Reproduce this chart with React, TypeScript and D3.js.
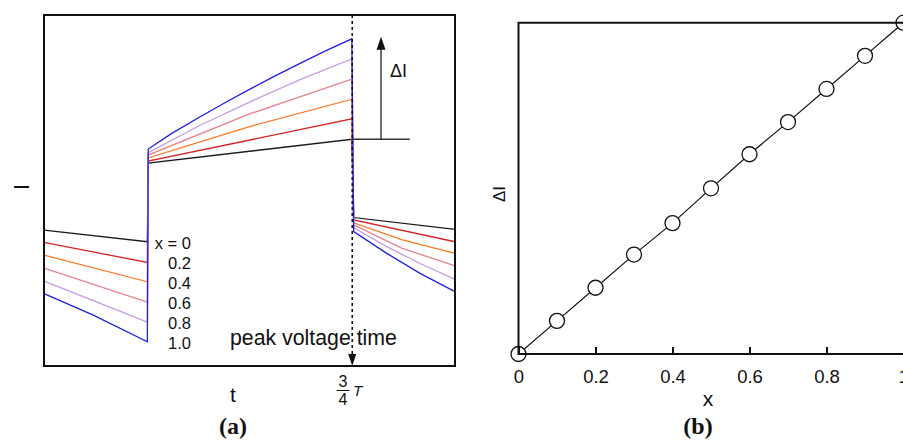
import * as d3 from "d3";
import { useRef, useEffect } from "react";

// panel (a): current vs time, one series per x (time in units of T)
const compositions = ["0", "0.2", "0.4", "0.6", "0.8", "1.0"];
const seriesColors = ["#1a1a1a", "#d62424", "#fb7a26", "#e8838e", "#c79be6", "#1f1fe6"];

const currentBlack: [number, number][] = [
  [0, 38.7], [0.2515, 35.4], [0.2535, 57.8], [0.749, 64.6], [0.7535, 42.3], [1, 38.9]
];
const currentRed: [number, number][] = [
  [0, 35.2], [0.2515, 29.5], [0.2535, 58.4], [0.749, 70.4], [0.7535, 41.6], [1, 35.4]
];
const currentOrange: [number, number][] = [
  [0, 31.6], [0.2515, 24.0], [0.2535, 59.3], [0.5, 68.2], [0.749, 76.0], [0.7535, 40.8], [0.87, 36.0], [1, 32.1]
];
const currentPink: [number, number][] = [
  [0, 27.9], [0.2515, 18.2], [0.2535, 60.1], [0.5, 71.8], [0.749, 81.7], [0.7535, 40.2], [0.87, 33.6], [1, 28.5]
];
const currentLilac: [number, number][] = [
  [0, 24.2], [0.12, 18.6], [0.2515, 12.5], [0.2535, 60.8], [0.38, 68.6], [0.5, 75.2], [0.623, 81.6], [0.749, 87.5],
  [0.7535, 39.4], [0.834, 34.0], [0.915, 29.2], [1, 24.7]
];
const currentBlue: [number, number][] = [
  [0, 20.6], [0.12, 14.5], [0.2515, 6.9], [0.2535, 61.8], [0.31, 66.2], [0.38, 71.0], [0.44, 75.0], [0.5, 78.8],
  [0.56, 82.5], [0.623, 86.2], [0.685, 89.8], [0.749, 93.2],
  [0.7535, 38.3], [0.834, 32.1], [0.915, 26.4], [1, 21.2]
];
const currents = [currentBlack, currentRed, currentOrange, currentPink, currentLilac, currentBlue];

// panel (b): ΔI vs x
const xValues = [0, 0.1, 0.2, 0.3, 0.4, 0.5, 0.6, 0.7, 0.8, 0.9, 1.0];
const deltaI = [0, 0.1, 0.2, 0.3, 0.395, 0.5, 0.603, 0.7, 0.8, 0.9, 1.0];
const xTicks = [0, 0.2, 0.4, 0.6, 0.8, 1];

const sans = "'Liberation Sans', Arial, sans-serif";
const serif = "'Liberation Serif', 'Times New Roman', serif";

export default function App() {
  const gx = useRef<SVGGElement>(null);

  const width = 903;
  const height = 441;

  // panel (a) scales
  const xA = d3.scaleLinear([0, 1], [44, 455]);
  const yA = d3.scaleLinear([0, 100], [366, 15]);
  const lineA = d3.line<[number, number]>((d) => xA(d[0]), (d) => yA(d[1]));

  // panel (b) scales
  const xB = d3.scaleLinear([0, 1], [518.5, 903.5]);
  const yB = d3.scaleLinear([0, 1], [354, 22.7]);
  const lineB = d3.line<number>((d, i) => xB(xValues[i]), (d) => yB(d));

  useEffect(() => {
    const g = d3.select(gx.current!);
    g.call(
      d3.axisBottom(xB)
        .tickValues(xTicks)
        .tickFormat((d) => d3.format("~g")(d as number))
        .tickSizeInner(-7)
        .tickSizeOuter(0)
        .tickPadding(16)
    );
    g.select(".domain").remove();
    g.selectAll(".tick line").attr("stroke", "#111").attr("stroke-width", 2);
    g.selectAll(".tick text")
      .attr("fill", "#111")
      .style("font-size", "18.5px")
      .style("font-family", sans);
  }, [xB]);

  const peakX = xA(0.75);
  const arrowX = xA(0.82);
  const baseY = yA(currentBlack[3][1]);
  const tipY = yA(currentBlue[11][1]) - 2;

  return (
    <div style={{ position: "fixed", left: 0, top: 0 }}>
      <svg width={width} height={height} style={{ display: "block", overflow: "hidden" }}>
        <rect width={width} height={height} fill="white" />

        {/* ---------- panel (a) ---------- */}
        {currents.map((s, i) => (
          <path key={i} d={lineA(s)!} fill="none" stroke={seriesColors[i]} strokeWidth={1.3} />
        ))}

        {/* peak voltage time marker */}
        <line x1={peakX} x2={peakX} y1={15} y2={355} stroke="#111" strokeWidth={1.6} strokeDasharray="3,3" />
        <path d={`M${peakX - 4},354 L${peakX + 4},354 L${peakX},366 Z`} fill="#111" />

        {/* ΔI arrow */}
        <line x1={peakX} x2={xA(0.89)} y1={baseY} y2={baseY} stroke="#333" strokeWidth={1.4} />
        <line x1={arrowX} x2={arrowX} y1={baseY} y2={tipY + 10} stroke="#333" strokeWidth={1.4} />
        <path d={`M${arrowX - 4.5},${tipY + 13} L${arrowX + 4.5},${tipY + 13} L${arrowX},${tipY} Z`} fill="#111" />
        <text x={390} y={77} fontFamily={sans} fontSize={18} fill="#111">ΔI</text>

        <rect x={44} y={15} width={411} height={351} fill="none" stroke="#111" strokeWidth={2} />

        {/* legend */}
        <g fontFamily={sans} fontSize={16.5} fill="#111" textAnchor="end">
          {compositions.map((c, i) => (
            <text key={c} x={191} y={248.5 + i * 20}>{i === 0 ? `x = ${c}` : c}</text>
          ))}
        </g>
        <text x={230} y={344.5} fontFamily={sans} fontSize={21.3} fill="#111">peak voltage time</text>

        {/* axis labels (a) */}
        <text transform="translate(28.5,187) rotate(-90)" textAnchor="middle" fontFamily={sans} fontSize={22} fill="#111">I</text>
        <text x={233} y={401.5} textAnchor="middle" fontFamily={sans} fontSize={21} fill="#111">t</text>
        <g fontFamily={sans} fontSize={16} fill="#111" textAnchor="middle">
          <text x={343} y={387}>3</text>
          <line x1={336.5} x2={349.5} y1={390.5} y2={390.5} stroke="#111" strokeWidth={1} />
          <text x={343} y={404.5}>4</text>
        </g>
        <text x={353} y={396} fontFamily={sans} fontSize={15} fontStyle="italic" fill="#111">T</text>
        <text x={233} y={434} textAnchor="middle" fontFamily={serif} fontWeight="bold" fontSize={24} fill="#111">(a)</text>

        {/* ---------- panel (b) ---------- */}
        <path d={lineB(deltaI)!} fill="none" stroke="#111" strokeWidth={1.2} />
        <g fill="white" stroke="#111" strokeWidth={1.3}>
          {deltaI.map((d, i) => (
            <circle key={i} cx={xB(xValues[i])} cy={yB(d)} r={7.5} />
          ))}
        </g>
        <g ref={gx} transform={`translate(0,${yB(0)})`} />
        <path
          d={`M${xB(1) + 2},${yB(1)} L${xB(0)},${yB(1)} L${xB(0)},${yB(0)} L${xB(1) + 2},${yB(0)}`}
          fill="none"
          stroke="#111"
          strokeWidth={2}
        />
        <text x={708} y={406} textAnchor="middle" fontFamily={sans} fontSize={21} fill="#111">x</text>
        <text transform="translate(505,194) rotate(-90)" textAnchor="middle" fontFamily={sans} fontSize={17} fill="#111">ΔI</text>
        <text x={698} y={434} textAnchor="middle" fontFamily={serif} fontWeight="bold" fontSize={24} fill="#111">(b)</text>
      </svg>
    </div>
  );
}
